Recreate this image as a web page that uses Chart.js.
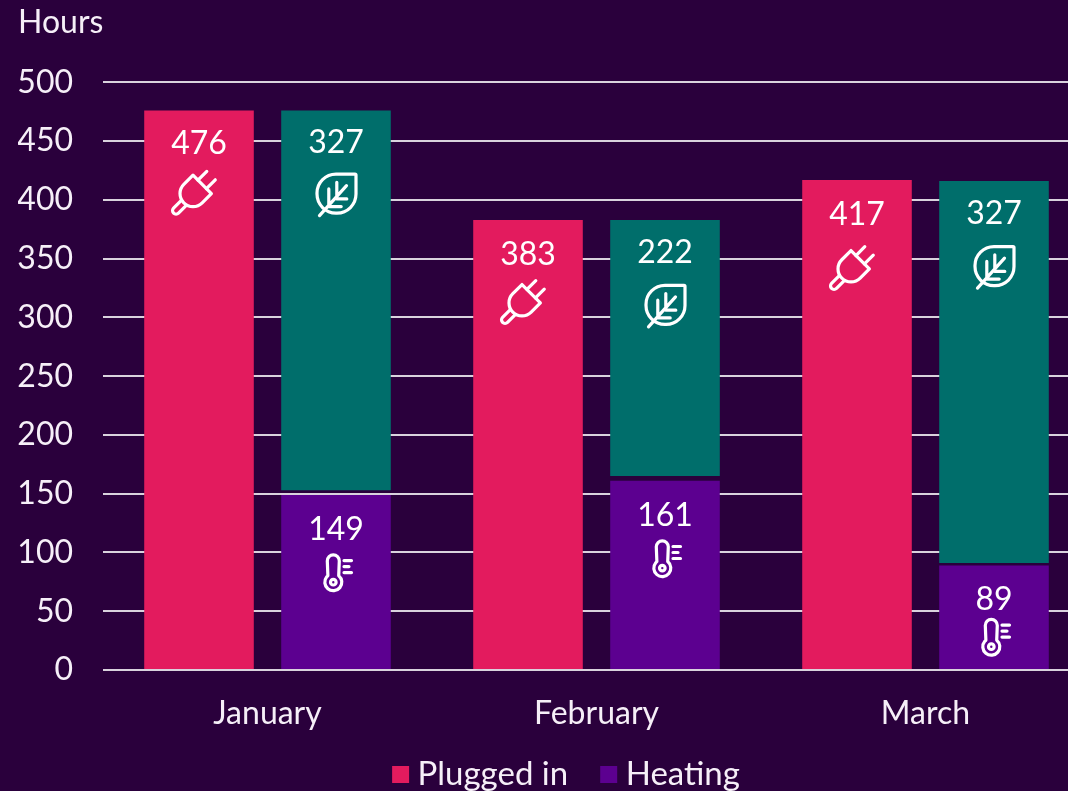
<!DOCTYPE html>
<html>
<head>
<meta charset="utf-8">
<style>
html,body{margin:0;padding:0;background:#2a003c;overflow:hidden;width:1068px;height:791px}
canvas{display:block}
</style>
<script src="https://cdn.jsdelivr.net/npm/chart.js@4/dist/chart.umd.min.js"></script>
</head>
<body>
<canvas id="c" width="1128" height="801"></canvas>
<script>
const categories = ["January", "February", "March"];
const pluggedIn = [476, 383, 417];
const heating = [149, 161, 89];
const renewable = [327, 222, 327];
const separation = [4, 4, 2];
const tickValues = [0, 50, 100, 150, 200, 250, 300, 350, 400, 450, 500];

const BG = "#2a003c", PINK = "#e31b5e", PURPLE = "#5c0090", GREEN = "#006e6b";
const TEXT = "#f6eff8", GRID = "#d9d2dd";
const FONT = "Lato, sans-serif";
const SIZE = 32, WEIGHT = 400;

const labelDy = {plug: [33.5, 34.5, 34.5], leaf: [32.5, 32.5, 32.5], therm: [34.5, 34.5, 34.5]};
const iconDy = {plug: [83, 83, 89], leaf: [83, 85, 85], therm: [78, 78, 72]};

function drawPlug(ctx) {
  ctx.rotate(-Math.PI / 4);
  ctx.beginPath();
  ctx.moveTo(0, 13);
  ctx.lineTo(13, 13);
  ctx.lineTo(13, -13);
  ctx.lineTo(0, -13);
  ctx.arc(0, 0, 13, -Math.PI / 2, Math.PI / 2, true);
  ctx.stroke();
  ctx.beginPath();
  ctx.moveTo(13, -6); ctx.lineTo(25.5, -6);
  ctx.moveTo(13, 6); ctx.lineTo(25.5, 6);
  ctx.stroke();
  ctx.beginPath();
  ctx.moveTo(-13, -3.5); ctx.lineTo(-24, -3.5);
  ctx.arc(-24, 0, 3.5, -Math.PI / 2, Math.PI / 2, true);
  ctx.lineTo(-13, 3.5);
  ctx.stroke();
}
function drawLeaf(ctx) {
  ctx.beginPath();
  ctx.roundRect(-19.5, -19.5, 39, 39, [19, 1, 19, 19]);
  ctx.stroke();
  ctx.beginPath();
  ctx.moveTo(-17, 22); ctx.lineTo(10, -8);
  ctx.moveTo(-7.7, -4.7); ctx.lineTo(-7.7, 13); ctx.lineTo(4.7, 13);
  ctx.moveTo(0.3, -11.3); ctx.lineTo(0.3, 5.3); ctx.lineTo(10.3, 5.3);
  ctx.stroke();
}
function drawTherm(ctx) {
  ctx.beginPath();
  ctx.arc(-2.7, 9.3, 8.5, -Math.PI * 0.28, Math.PI * 1.28);
  ctx.lineTo(-8.7, -12);
  ctx.arc(-2.7, -12, 6, Math.PI, 0);
  ctx.closePath();
  ctx.stroke();
  ctx.beginPath();
  ctx.arc(-2.7, 9.3, 2.8, 0, Math.PI * 2);
  ctx.stroke();
  ctx.beginPath();
  ctx.moveTo(8, -12.3); ctx.lineTo(15.5, -12.3);
  ctx.moveTo(8, -6.3); ctx.lineTo(13, -6.3);
  ctx.moveTo(8, -0.3); ctx.lineTo(15.5, -0.3);
  ctx.stroke();
}

const barAnnotations = {
  id: "barAnnotations",
  afterLayout(chart) {
    chart.legend.left += 32;
  },
  afterDatasetsDraw(chart) {
    const ctx = chart.ctx;
    const sets = [
      {ds: 0, vals: pluggedIn, kind: "plug", draw: drawPlug, dx: -6},
      {ds: 3, vals: renewable, kind: "leaf", draw: drawLeaf, dx: 0.5},
      {ds: 1, vals: heating, kind: "therm", draw: drawTherm, dx: 0}
    ];
    sets.forEach(s => {
      chart.getDatasetMeta(s.ds).data.forEach((bar, i) => {
        ctx.save();
        ctx.fillStyle = "#ffffff";
        ctx.font = WEIGHT + " " + SIZE + "px " + FONT;
        ctx.textAlign = "center";
        ctx.textBaseline = "middle";
        ctx.fillText(String(s.vals[i]), bar.x, bar.y + labelDy[s.kind][i]);
        ctx.translate(bar.x + s.dx, bar.y + iconDy[s.kind][i]);
        ctx.strokeStyle = "#ffffff";
        ctx.lineWidth = 3.2;
        ctx.lineCap = "round";
        ctx.lineJoin = "round";
        s.draw(ctx);
        ctx.restore();
      });
    });
  }
};

const axisFont = {family: FONT, size: SIZE, weight: WEIGHT};

new Chart(document.getElementById("c"), {
  type: "bar",
  plugins: [barAnnotations],
  data: {
    labels: categories,
    datasets: [
      {label: "Plugged in", data: pluggedIn, backgroundColor: PINK, stack: "a"},
      {label: "Heating", data: heating, backgroundColor: PURPLE, stack: "b"},
      {label: "Separation", data: separation, backgroundColor: "rgba(0,0,0,0)", stack: "b"},
      {label: "Renewable", data: renewable.map((v, i) => v - separation[i]), backgroundColor: GREEN, stack: "b"}
    ]
  },
  options: {
    responsive: false,
    animation: false,
    devicePixelRatio: 1,
    categoryPercentage: 0.8328,
    barPercentage: 0.8,
    layout: {padding: {left: 18, right: 38, top: 0, bottom: 0}},
    plugins: {
      tooltip: {enabled: false},
      title: {
        display: true,
        text: "Hours",
        align: "start",
        color: TEXT,
        font: {family: FONT, size: SIZE, weight: WEIGHT, lineHeight: 1.2},
        padding: {top: 3, bottom: 41}
      },
      legend: {
        position: "bottom",
        labels: {
          color: TEXT,
          font: {family: FONT, size: 33, weight: WEIGHT},
          boxWidth: 1,
          boxHeight: 1,
          padding: 40,
          generateLabels() {
            return [
              {text: "Plugged in", fillStyle: PINK, strokeStyle: PINK, lineWidth: 16, fontColor: TEXT},
              {text: "Heating", fillStyle: PURPLE, strokeStyle: PURPLE, lineWidth: 16, fontColor: TEXT}
            ];
          }
        }
      }
    },
    scales: {
      x: {
        stacked: true,
        afterFit(scale) { scale.height = 48; },
        grid: {display: false, drawTicks: false},
        border: {display: false},
        ticks: {color: TEXT, padding: -63, mirror: true, font: axisFont}
      },
      y: {
        stacked: true,
        min: 0,
        max: 500,
        afterFit(scale) { scale.width = 85; },
        afterBuildTicks(scale) { scale.ticks = tickValues.map(v => ({value: v})); },
        grid: {color: GRID, lineWidth: 2, drawTicks: false},
        border: {display: false},
        ticks: {color: TEXT, padding: 30, font: axisFont}
      }
    }
  }
});
</script>
</body>
</html>
